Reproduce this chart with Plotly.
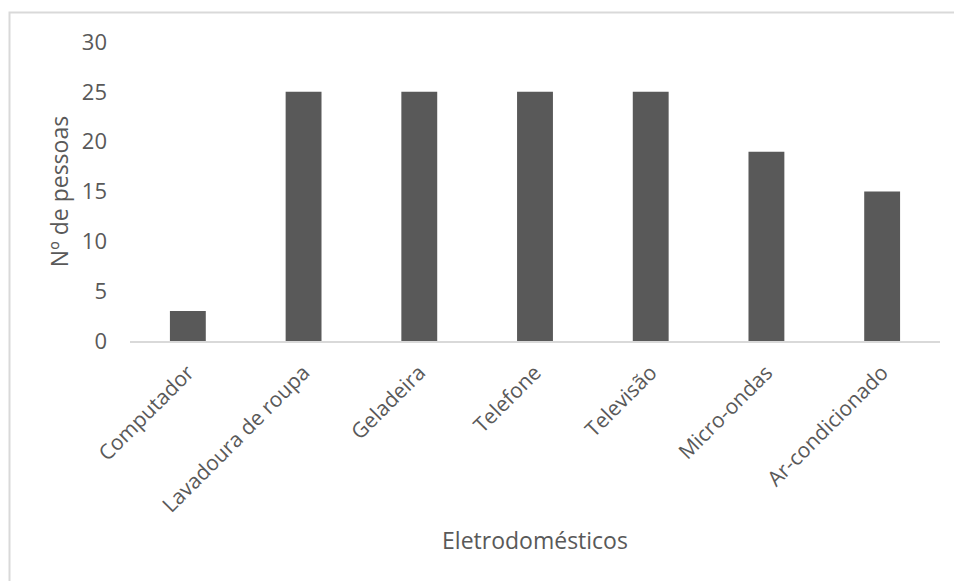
import plotly.graph_objects as go

# Appliances owned and number of people
categories = ["Computador", "Lavadoura de roupa", "Geladeira", "Telefone",
              "Televisão", "Micro-ondas", "Ar-condicionado"]
people = [3, 25, 25, 25, 25, 19, 15]
y_ticks = [0, 5, 10, 15, 20, 25, 30]

TEXT = "#595959"
LINE = "#d9d9d9"
FONT = "Open Sans"

fig = go.Figure(
    go.Bar(
        x=categories,
        y=people,
        marker=dict(color="#595959", line=dict(width=0)),
        hoverinfo="x+y",
    )
)

W, H = 954, 581
L, R, T, B = 130, 14, 42, 240
pw, ph = W - L - R, H - T - B


def px_x(x):
    return (x - L) / pw


def px_y(y):
    return (H - B - y) / ph


fig.update_layout(
    width=W,
    height=H,
    margin=dict(l=L, r=R, t=T, b=B, autoexpand=False),
    paper_bgcolor="white",
    plot_bgcolor="white",
    bargap=0.69,
    showlegend=False,
    font=dict(family=FONT, color=TEXT, size=20),
    xaxis=dict(
        tickangle=-45,
        showgrid=False,
        showline=True,
        linecolor=LINE,
        linewidth=2,
        ticks="",
        ticklabelstandoff=9,
        tickfont=dict(size=21, color=TEXT),
        title=dict(text="Eletrodomésticos", font=dict(size=23, color=TEXT), standoff=16),
        automargin=False,
    ),
    yaxis=dict(
        range=[0, 30],
        tickvals=y_ticks,
        showgrid=False,
        zeroline=False,
        showline=False,
        ticks="",
        ticklabelstandoff=22,
        tickfont=dict(size=22, color=TEXT),
        title=dict(text="Nº de pessoas", font=dict(size=23, color=TEXT), standoff=6),
        automargin=False,
    ),
    shapes=[
        dict(
            type="rect",
            xref="paper",
            yref="paper",
            x0=px_x(9.5),
            x1=px_x(1000),
            y0=px_y(640),
            y1=px_y(12.5),
            line=dict(color=LINE, width=2),
            fillcolor="rgba(0,0,0,0)",
            layer="below",
        )
    ],
)

fig.write_html("out.html")
